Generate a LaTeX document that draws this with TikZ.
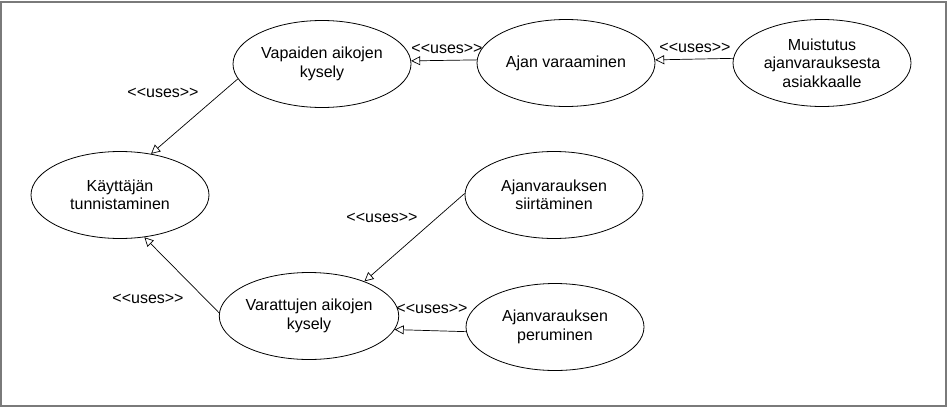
\documentclass[tikz,border=0pt]{standalone}
\usepackage{fontspec}
\setmainfont{Liberation Sans}
\usetikzlibrary{shapes.geometric,arrows.meta}
\newcommand{\usesl}{<{}<uses>{}>}
\begin{document}
\begin{tikzpicture}[x=1pt,y=-1pt,
  usecase/.style={draw=black, line width=0.8pt, ellipse, minimum width=178pt, minimum height=87pt, inner sep=0pt, align=center, font=\fontsize{16}{18.5}\selectfont},
  uselabel/.style={anchor=base, inner sep=0pt, font=\fontsize{16}{18.5}\selectfont},
  usesarrow/.style={draw=black, line width=0.7pt, -{Triangle[open, length=9pt, width=9pt]}}
]
\useasboundingbox (0,0) rectangle (947,407);
\draw[draw=black!52, line width=2pt] (1,1.5) rectangle (945.5,405.5);

\node[usecase] (vap) at (322,64) {Vapaiden aikojen\\kysely};
\node[usecase] (ajan) at (566,63) {Ajan varaaminen};
\node[usecase] (muis) at (822,63) {Muistutus\\ajanvarauksesta\\asiakkaalle};
\node[usecase] (kay) at (120,195) {Käyttäjän\\tunnistaminen};
\node[usecase] (siir) at (554,195) {Ajanvarauksen\\siirtäminen};
\node[usecase] (var) at (309,316) {Varattujen aikojen\\kysely};
\node[usecase] (per) at (555,327) {Ajanvarauksen\\peruminen};

\draw[usesarrow] (ajan.178.5) -- (vap.2);
\draw[usesarrow] (muis.177.5) -- (ajan.2.5);
\draw[usesarrow] (vap.190) -- (kay.53);
\draw[usesarrow] (var.178) -- (kay.300);
\draw[usesarrow] (siir.179) -- (var.32);
\draw[usesarrow] (per.183) -- (var.351);

\node[uselabel] (l1) at (447,53) {\usesl};
\node[uselabel] (l2) at (695,52) {\usesl};
\node[uselabel] (l3) at (163,97) {\usesl};
\node[uselabel] (l4) at (148,303) {\usesl};
\node[uselabel] (l5) at (382,222) {\usesl};
\node[uselabel] (l6) at (432,313) {\usesl};
\end{tikzpicture}
\end{document}
